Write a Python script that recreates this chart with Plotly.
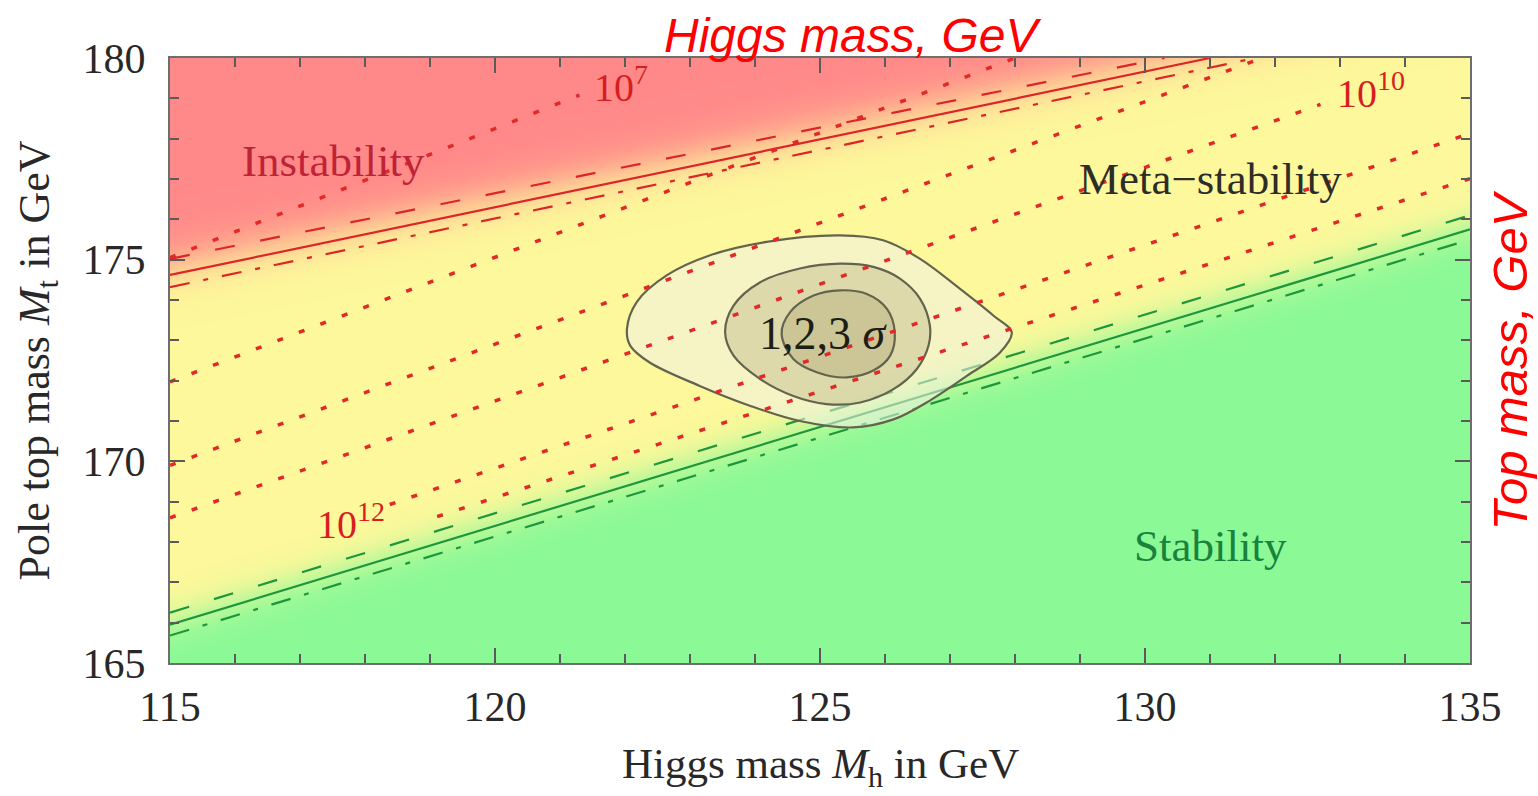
import numpy as np
import plotly.graph_objects as go

# ---------------- data ----------------
mh_range = [115, 135]
mt_range = [165, 180]
mh_ticks = [115, 120, 125, 130, 135]
mt_ticks = [165, 170, 175, 180]

# Stability boundary (green): Mh end points and Mt values
green_mh = [115, 135]
green_solid_mt = [165.95, 175.75]
green_upper_mt = [166.25, 176.10]
green_lower_mt = [165.68, 175.50]

# Instability boundary (red)
red_solid_mh = [115, 131.0]
red_solid_mt = [174.62, 180.0]
red_upper_mh = [115, 130.3]
red_upper_mt = [175.02, 180.0]
red_lower_mh = [115, 131.7]
red_lower_mt = [174.32, 180.0]

# Instability-scale dotted contours (start / end points)
lam_mh_start = [115.0, 115.0, 115.0, 115.0, 118.38, 119.11]
lam_mh_end = [121.3, 128.0, 131.8, 132.7, 135.0, 135.0]
lam_mt_start = [175.05, 171.97, 169.90, 168.60, 168.93, 168.63]
lam_mt_end = [179.08, 180.0, 180.0, 178.85, 178.13, 177.01]

# 1,2,3 sigma regions (outline points)
sig3_mh = [122.03, 122.18, 122.64, 123.31, 124.18, 125.31, 125.97, 126.54, 127.15, 127.67,
           127.95, 127.77, 127.26, 126.64, 126.13, 125.51, 124.69, 123.92, 123.15, 122.38, 122.08]
sig3_mt = [173.28, 173.95, 174.61, 175.11, 175.44, 175.60, 175.48, 175.02, 174.28, 173.61,
           173.20, 172.70, 172.12, 171.46, 171.04, 170.84, 171.00, 171.38, 171.87, 172.45, 172.87]
sig2_mh = [123.54, 123.67, 124.08, 124.69, 125.31, 125.82, 126.23, 126.54, 126.69, 126.67,
           126.49, 126.13, 125.62, 125.10, 124.59, 124.08, 123.67]
sig2_mt = [173.20, 173.86, 174.44, 174.78, 174.90, 174.82, 174.53, 174.03, 173.37, 172.87,
           172.29, 171.79, 171.46, 171.42, 171.62, 172.04, 172.62]
sig1_mh = [124.41, 124.54, 124.90, 125.31, 125.72, 126.03, 126.15, 126.08, 125.82, 125.41,
           124.95, 124.59]
sig1_mt = [173.16, 173.70, 174.11, 174.24, 174.15, 173.78, 173.20, 172.62, 172.25, 172.08,
           172.21, 172.54]

# ---------------- styles ----------------
RED_LINE = "rgb(218,38,38)"
GREEN_LINE = "rgb(30,150,60)"
DOT_RED = "rgb(226,40,40)"
SERIF = "Liberation Serif"
TXT = "rgb(40,40,40)"

def line_at(x, xs, ys):
    s = (ys[1] - ys[0]) / (xs[1] - xs[0])
    return ys[0] + s * (np.asarray(x) - xs[0])

fig = go.Figure()

# background regions (built from the boundary lines)
hm_mh = np.linspace(mh_range[0], mh_range[1], 201)
hm_mt = np.linspace(mt_range[0], mt_range[1], 301)
MH, MT = np.meshgrid(hm_mh, hm_mt)
g_b = line_at(MH, green_mh, green_solid_mt)
r_b = line_at(MH, red_solid_mh, red_solid_mt)
sig = lambda t: 1.0 / (1.0 + np.exp(-t))
Z = sig((MT - (g_b + 0.1)) / 0.25) + sig((MT - (r_b + 0.25)) / 0.3)
fig.add_trace(go.Heatmap(
    x=hm_mh, y=hm_mt, z=Z, zmin=0, zmax=2, zsmooth="best", showscale=False,
    hoverinfo="skip",
    colorscale=[[0, "rgb(138,249,150)"], [0.5, "rgb(253,248,155)"], [1, "rgb(255,137,137)"]],
))

def add_line(x, y, color, dash, width):
    fig.add_trace(go.Scatter(x=x, y=y, mode="lines", hoverinfo="skip", showlegend=False,
                             line=dict(color=color, dash=dash, width=width)))

# green boundary
add_line(green_mh, green_upper_mt, GREEN_LINE, "20px,26px", 2.2)
add_line(green_mh, green_solid_mt, GREEN_LINE, "solid", 2.2)
add_line(green_mh, green_lower_mt, GREEN_LINE, "20px,14px,5px,14px", 2.2)
# red boundary
add_line(red_upper_mh, red_upper_mt, RED_LINE, "20px,26px", 2.2)
add_line(red_solid_mh, red_solid_mt, RED_LINE, "solid", 2.2)
add_line(red_lower_mh, red_lower_mt, RED_LINE, "20px,14px,5px,14px", 2.2)

# sigma regions
OUTLINE = "rgb(100,100,78)"
for xs, ys, fc in [(sig3_mh, sig3_mt, "rgba(240,240,230,0.55)"),
                   (sig2_mh, sig2_mt, "rgba(190,185,140,0.45)"),
                   (sig1_mh, sig1_mt, "rgba(180,170,120,0.40)")]:
    fig.add_trace(go.Scatter(x=xs + xs[:1], y=ys + ys[:1], mode="lines", fill="toself",
                             fillcolor=fc, hoverinfo="skip", showlegend=False,
                             line=dict(color=OUTLINE, width=2.2, shape="spline", smoothing=1.0)))

# dotted instability-scale lines
for a, b, c, d in zip(lam_mh_start, lam_mh_end, lam_mt_start, lam_mt_end):
    add_line([a, b], [c, d], DOT_RED, "6px,17px", 3.5)

# ---------------- labels ----------------
ann = []
def label(x, y, text, color, size, family=SERIF, **kw):
    ann.append(dict(x=x, y=y, xref="x", yref="y", text=text, showarrow=False,
                    font=dict(family=family, size=size, color=color), **kw))

label(117.51, 177.44, "Instability", "rgb(190,35,55)", 45)
label(131.0, 177.01, "Meta\u2212stability", "rgb(45,45,40)", 45)
label(131.0, 167.91, "Stability", "rgb(25,130,60)", 45)
label(125.05, 173.16, "1,2,3 <i>\u03c3</i>", "rgb(30,30,25)", 46)
label(121.94, 179.35, "10<sup>7</sup>", "rgb(215,30,30)", 40)
label(133.48, 179.20, "10<sup>10</sup>", "rgb(215,30,30)", 40)
label(117.78, 168.51, "10<sup>12</sup>", "rgb(215,30,30)", 40)

# axis titles
ann.append(dict(x=0.5, y=0, xref="paper", yref="paper", yanchor="middle", yshift=-104,
                text="Higgs mass <i>M</i><sub>h</sub> in GeV", showarrow=False,
                font=dict(family=SERIF, size=43, color=TXT)))
ann.append(dict(x=0, y=0.5, xref="paper", yref="paper", xanchor="center", xshift=-133,
                text="Pole top mass <i>M</i><sub>t</sub> in GeV", showarrow=False, textangle=-90,
                font=dict(family=SERIF, size=44, color=TXT)))

# red overlay titles
ann.append(dict(x=0.525, y=1.0, xref="paper", yref="paper", yanchor="bottom", yshift=-6,
                text="<i>Higgs mass, GeV</i>", showarrow=False,
                font=dict(family="Liberation Sans", size=48, color="rgb(255,0,0)")))
ann.append(dict(x=1.0, y=0.5, xref="paper", yref="paper", xanchor="left", xshift=10,
                text="<i>Top mass, GeV</i>", showarrow=False, textangle=-90,
                font=dict(family="Liberation Sans", size=49, color="rgb(255,0,0)")))

axis_common = dict(showgrid=False, zeroline=False, showline=True, linecolor="rgb(110,110,110)",
                   linewidth=2, mirror="ticks", ticks="inside", ticklen=15, tickwidth=2,
                   tickcolor="rgb(90,90,90)", layer="above traces", automargin=False,
                   tickfont=dict(family=SERIF, size=42, color=TXT),
                   minor=dict(dtick=1, ticks="inside", ticklen=9, tickwidth=2,
                              tickcolor="rgb(90,90,90)", showgrid=False))

fig.update_layout(
    width=1538, height=796, autosize=False,
    margin=dict(l=170, r=68, t=58, b=133),
    paper_bgcolor="white", plot_bgcolor="white",
    showlegend=False,
    annotations=ann,
    xaxis=dict(range=mh_range, tickvals=mh_ticks, ticklabelstandoff=6, **axis_common),
    yaxis=dict(range=mt_range, tickvals=mt_ticks, ticklabelstandoff=14, **axis_common),
)

fig.write_html("out.html")
